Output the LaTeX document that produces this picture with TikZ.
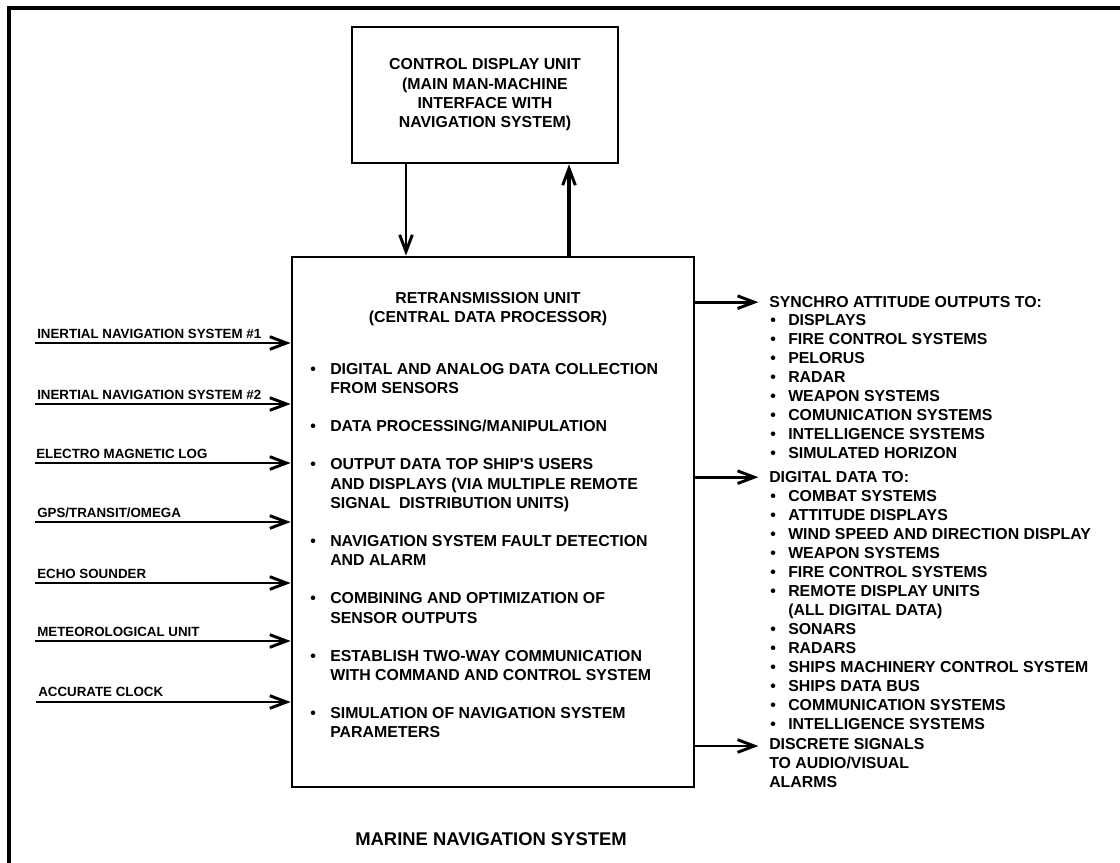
\documentclass[tikz,border=0pt]{standalone}
\usepackage{fontspec}
\setmainfont{Liberation Sans}
\usetikzlibrary{arrows.meta,calc}
\newcommand\mybA{\makebox[15pt][l]{•}}
\newcommand\myiA{\hspace*{15pt}}
\newcommand\mybB{\makebox[13.5pt][l]{•}}
\newcommand\myiB{\hspace*{13.5pt}}
\tikzset{
  box/.style={draw, line width=2.1pt, inner sep=0pt},
  arr/.style={line width=2.1pt, -{Straight Barb[length=12.5pt,width=9.5pt,line width=2.2pt]}},
  main/.style={font=\bfseries\fontsize{11.9pt}{14.5pt}\selectfont, inner sep=0pt},
  rlist/.style={font=\bfseries\fontsize{11.9pt}{14.25pt}\selectfont, inner sep=0pt, align=left, anchor=north west},
  lbl/.style={font=\bfseries\fontsize{10pt}{12pt}\selectfont, inner sep=0pt, anchor=base west},
  ttl/.style={font=\bfseries\fontsize{13.8pt}{16pt}\selectfont, inner sep=0pt},
}
\begin{document}
\begin{tikzpicture}[x=0.75pt,y=-0.75pt]
\useasboundingbox (0,0) rectangle (1120,863);
% outer frame (only top and left edges visible)
\draw[line width=3pt] (1130,8.5) -- (8.5,8.5) -- (8.5,875);

% control display unit
\node[box, main, align=center, minimum width=199.5pt, minimum height=102pt] (cdu) at (485,95)
  {CONTROL DISPLAY UNIT\\(MAIN MAN-MACHINE\\INTERFACE WITH\\NAVIGATION SYSTEM)};

% retransmission unit
\node[box, minimum width=301.5pt, minimum height=397.5pt] (rtu) at (493,522) {};
\node[main, align=center, anchor=north] (rtitle) at (488,292.3)
  {RETRANSMISSION UNIT\\(CENTRAL DATA PROCESSOR)};
\node[main, align=left, anchor=north west] (rlst) at (310,363.3)
  {\mybA DIGITAL AND ANALOG DATA COLLECTION\\
   \myiA FROM SENSORS\\[14pt]
   \mybA DATA PROCESSING/MANIPULATION\\[14pt]
   \mybA OUTPUT DATA TOP SHIP\textquotesingle S USERS\\
   \myiA AND DISPLAYS (VIA MULTIPLE REMOTE\\
   \myiA SIGNAL\ \ DISTRIBUTION UNITS)\\[14pt]
   \mybA NAVIGATION SYSTEM FAULT DETECTION\\
   \myiA AND ALARM\\[14pt]
   \mybA COMBINING AND OPTIMIZATION OF\\
   \myiA SENSOR OUTPUTS\\[14pt]
   \mybA ESTABLISH TWO-WAY COMMUNICATION\\
   \myiA WITH COMMAND AND CONTROL SYSTEM\\[14pt]
   \mybA SIMULATION OF NAVIGATION SYSTEM\\
   \myiA PARAMETERS};

% arrows between CDU and RTU
\draw[arr, line width=1.9pt] ([xshift=-59.25pt]cdu.south) -- ([xshift=-59.25pt]cdu.south |- rtu.north);
\draw[arr, line width=2.4pt] ([xshift=63pt]cdu.south |- rtu.north) -- ([xshift=63pt]cdu.south);

% inputs
\coordinate (in1) at (35,343);
\coordinate (in2) at (35,404);
\coordinate (in3) at (35,463);
\coordinate (in4) at (35,522);
\coordinate (in5) at (35,583);
\coordinate (in6) at (35,641);
\coordinate (in7) at (36,702);
\node[lbl] (l1) at ($(in1)+(2,-5)$) {INERTIAL NAVIGATION SYSTEM \#1};
\node[lbl] (l2) at ($(in2)+(2,-5)$) {INERTIAL NAVIGATION SYSTEM \#2};
\node[lbl] (l3) at ($(in3)+(1,-5)$) {ELECTRO MAGNETIC LOG};
\node[lbl] (l4) at ($(in4)+(2,-5)$) {GPS/TRANSIT/OMEGA};
\node[lbl] (l5) at ($(in5)+(2,-5)$) {ECHO SOUNDER};
\node[lbl] (l6) at ($(in6)+(2,-5)$) {METEOROLOGICAL UNIT};
\node[lbl] (l7) at ($(in7)+(2,-6)$) {ACCURATE CLOCK};
\foreach \i in {1,...,7}{
  \draw[arr] (in\i) -- (in\i -| rtu.west);
}

% outputs
\node[main, anchor=north west] (synh) at (769,296.3) {SYNCHRO ATTITUDE OUTPUTS TO:};
\node[rlist] (synl) at (770,314.3)
  {\mybB DISPLAYS\\
   \mybB FIRE CONTROL SYSTEMS\\
   \mybB PELORUS\\
   \mybB RADAR\\
   \mybB WEAPON SYSTEMS\\
   \mybB COMUNICATION SYSTEMS\\
   \mybB INTELLIGENCE SYSTEMS\\
   \mybB SIMULATED HORIZON};
\node[main, anchor=north west] (digh) at (769,471.3) {DIGITAL DATA TO:};
\node[rlist] (digl) at (770,490.3)
  {\mybB COMBAT SYSTEMS\\
   \mybB ATTITUDE DISPLAYS\\
   \mybB WIND SPEED AND DIRECTION DISPLAY\\
   \mybB WEAPON SYSTEMS\\
   \mybB FIRE CONTROL SYSTEMS\\
   \mybB REMOTE DISPLAY UNITS\\
   \myiB (ALL DIGITAL DATA)\\
   \mybB SONARS\\
   \mybB RADARS\\
   \mybB SHIPS MACHINERY CONTROL SYSTEM\\
   \mybB SHIPS DATA BUS\\
   \mybB COMMUNICATION SYSTEMS\\
   \mybB INTELLIGENCE SYSTEMS};
\node[rlist] (dish) at (769,738.3)
  {DISCRETE SIGNALS\\TO AUDIO/VISUAL\\ALARMS};
\coordinate (dis1) at ($(dish.north west)+(0,7.7)$);

\draw[arr] (rtu.east |- synh.west) -- ([xshift=-8pt]synh.west);
\draw[arr] (rtu.east |- digh.west) -- ([xshift=-8pt]digh.west);
\draw[arr] (rtu.east |- dis1) -- ([xshift=-8pt]dis1);

% caption
\node[ttl] (title) at (491,839) {MARINE NAVIGATION SYSTEM};
\end{tikzpicture}
\end{document}
